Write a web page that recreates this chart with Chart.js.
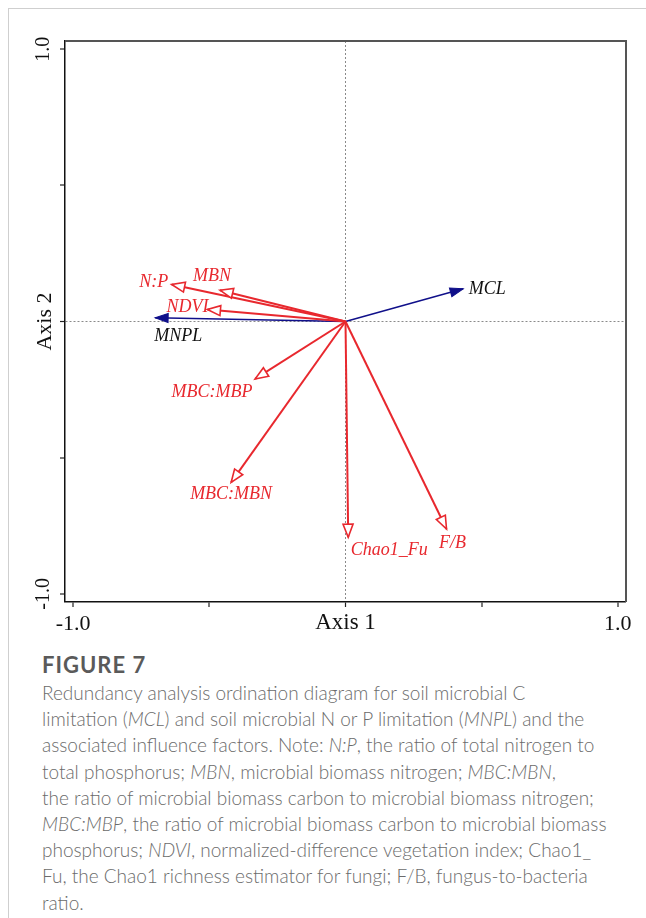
<!DOCTYPE html>
<html>
<head>
<meta charset="utf-8">
<script src="https://cdn.jsdelivr.net/npm/chart.js@4.4.0/dist/chart.umd.min.js"></script>
<style>
  body { margin: 0; background: #fff; }
  #page { position: absolute; left: 8px; top: 8px; width: 638px; height: 910px;
          border-left: 1px solid #cfcfcf; border-top: 1px solid #cfcfcf; }
  #rda { position: absolute; left: 0; top: 0; }
  #caption { position: absolute; left: 42px; top: 650px; font-family: Lato, "Open Sans", sans-serif;
             color: #6b6b6b; font-size: 19px; font-weight: 300; line-height: 26.2px; white-space: nowrap; }
  #caption .fig { font-size: 22px; font-weight: bold; color: #5a5a5a; letter-spacing: 1px; line-height: 30px; }
</style>
</head>
<body>
<div id="page"></div>
<canvas id="rda" width="646" height="650"></canvas>
<div id="caption">
  <div class="fig">FIGURE 7</div>
  Redundancy analysis ordination diagram for soil microbial C<br>
  limitation (<i>MCL</i>) and soil microbial N or P limitation (<i>MNPL</i>) and the<br>
  associated influence factors. Note: <i>N:P</i>, the ratio of total nitrogen to<br>
  total phosphorus; <i>MBN</i>, microbial biomass nitrogen; <i>MBC:MBN</i>,<br>
  the ratio of microbial biomass carbon to microbial biomass nitrogen;<br>
  <i>MBC:MBP</i>, the ratio of microbial biomass carbon to microbial biomass<br>
  phosphorus; <i>NDVI</i>, normalized-difference vegetation index; Chao1_<br>
  Fu, the Chao1 richness estimator for fungi; F/B, fungus-to-bacteria<br>
  ratio.
</div>
<script>
// influence factors (red, open arrowheads)
const factors = ['N:P', 'MBN', 'NDVI', 'MBC:MBP', 'MBC:MBN', 'Chao1_Fu', 'F/B']
const factorAxis1 = [-0.638, -0.461, -0.507, -0.332, -0.420, 0.010, 0.371]
const factorAxis2 = [0.136, 0.115, 0.044, -0.211, -0.591, -0.792, -0.762]

// response variables (blue, filled arrowheads)
const responses = ['MCL', 'MNPL']
const responseAxis1 = [0.432, -0.699]
const responseAxis2 = [0.120, 0.014]

const tickValues = [-1, -0.5, 0, 0.5, 1]
const tickLabels = ['-1.0', '', '', '', '1.0']

// label offsets from arrow tip, px
const factorLabelOffset = [[-18, -2], [-8, -14], [-20, -2], [-43, 13], [0, 12], [41, 13], [6, 14]]
const responseLabelOffset = [[24, 0], [23, 19]]

const RED = '#e8282e'
const NAVY = '#10108a'

const datasets = []
factors.forEach((name, i) => {
  datasets.push({
    label: name,
    data: [{x: 0, y: 0}, {x: factorAxis1[i], y: factorAxis2[i]}],
    borderColor: RED, borderWidth: 2, hollow: true,
    labelColor: RED, labelOffset: factorLabelOffset[i]
  })
})
responses.forEach((name, i) => {
  datasets.push({
    label: name,
    data: [{x: 0, y: 0}, {x: responseAxis1[i], y: responseAxis2[i]}],
    borderColor: NAVY, borderWidth: 1.5, hollow: false,
    labelColor: '#111', labelOffset: responseLabelOffset[i]
  })
})

const arrowPlugin = {
  id: 'arrows',
  afterDatasetsDraw(chart) {
    const ctx = chart.ctx
    chart.data.datasets.forEach((ds, i) => {
      const pts = chart.getDatasetMeta(i).data
      const p0 = pts[0], p1 = pts[1]
      const ang = Math.atan2(p1.y - p0.y, p1.x - p0.x)
      ctx.save()
      ctx.translate(p1.x, p1.y)
      ctx.rotate(ang)
      ctx.beginPath()
      if (ds.hollow) {
        ctx.moveTo(0, 0); ctx.lineTo(-13, -5); ctx.lineTo(-13, 5)
      } else {
        ctx.moveTo(0, 0); ctx.lineTo(-13, -4.5); ctx.lineTo(-13, 4.5)
      }
      ctx.closePath()
      ctx.fillStyle = ds.hollow ? '#fff' : ds.borderColor
      ctx.fill()
      ctx.lineWidth = ds.hollow ? 1.6 : 1
      ctx.strokeStyle = ds.borderColor
      ctx.stroke()
      ctx.restore()

      ctx.save()
      ctx.font = 'italic 18px "Liberation Serif"'
      ctx.fillStyle = ds.labelColor
      ctx.textAlign = 'center'
      ctx.textBaseline = 'middle'
      ctx.fillText(ds.label, p1.x + ds.labelOffset[0], p1.y + ds.labelOffset[1])
      ctx.restore()
    })
  },
  afterDraw(chart) {
    // top and right sides of the frame
    const {ctx, chartArea: a} = chart
    ctx.save()
    ctx.strokeStyle = '#555'
    ctx.lineWidth = 2
    ctx.beginPath()
    ctx.moveTo(a.left, a.top); ctx.lineTo(a.right, a.top); ctx.lineTo(a.right, a.bottom)
    ctx.stroke()
    ctx.restore()
  }
}

const gridOpts = {
  color: '#8a8a8a',
  lineWidth: (c) => (c.tick && c.tick.value === 0 ? 1 : 0),
  tickColor: '#222',
  tickWidth: 1.2,
  tickLength: 5
}

new Chart(document.getElementById('rda'), {
  type: 'scatter',
  data: { datasets: datasets },
  plugins: [arrowPlugin],
  options: {
    responsive: false,
    animation: false,
    showLine: true,
    elements: { point: { radius: 0, hoverRadius: 0 } },
    layout: { padding: { top: 41, right: 20, left: 0, bottom: 0 } },
    plugins: { legend: { display: false }, tooltip: { enabled: false } },
    scales: {
      x: {
        type: 'linear', min: -1.03, max: 1.03,
        afterBuildTicks: (s) => { s.ticks = tickValues.map(v => ({value: v})) },
        afterFit: (s) => { s.height = 48 },
        grid: gridOpts,
        border: { color: '#111', width: 1.5, dash: [2, 2] },
        ticks: {
          autoSkip: false, maxRotation: 0, padding: 4, color: '#111',
          font: { family: 'Liberation Serif', size: 22 },
          callback: (v) => tickLabels[tickValues.indexOf(v)]
        },
        title: {
          display: true, text: 'Axis 1', color: '#111',
          font: { family: 'Liberation Serif', size: 23 },
          padding: { top: 0, bottom: 13 }
        }
      },
      y: {
        type: 'linear', min: -1.03, max: 1.03,
        afterBuildTicks: (s) => { s.ticks = tickValues.map(v => ({value: v})) },
        afterFit: (s) => { s.width = 65 },
        grid: gridOpts,
        border: { color: '#111', width: 1.5, dash: [2, 2] },
        ticks: {
          autoSkip: false, minRotation: 90, maxRotation: 90, crossAlign: 'center',
          padding: 0, color: '#111',
          font: { family: 'Liberation Serif', size: 20 },
          callback: (v) => tickLabels[tickValues.indexOf(v)]
        },
        title: {
          display: true, text: 'Axis 2', color: '#111',
          font: { family: 'Liberation Serif', size: 22 },
          padding: { top: 32, bottom: 0 }
        }
      }
    }
  }
})
</script>
</body>
</html>
